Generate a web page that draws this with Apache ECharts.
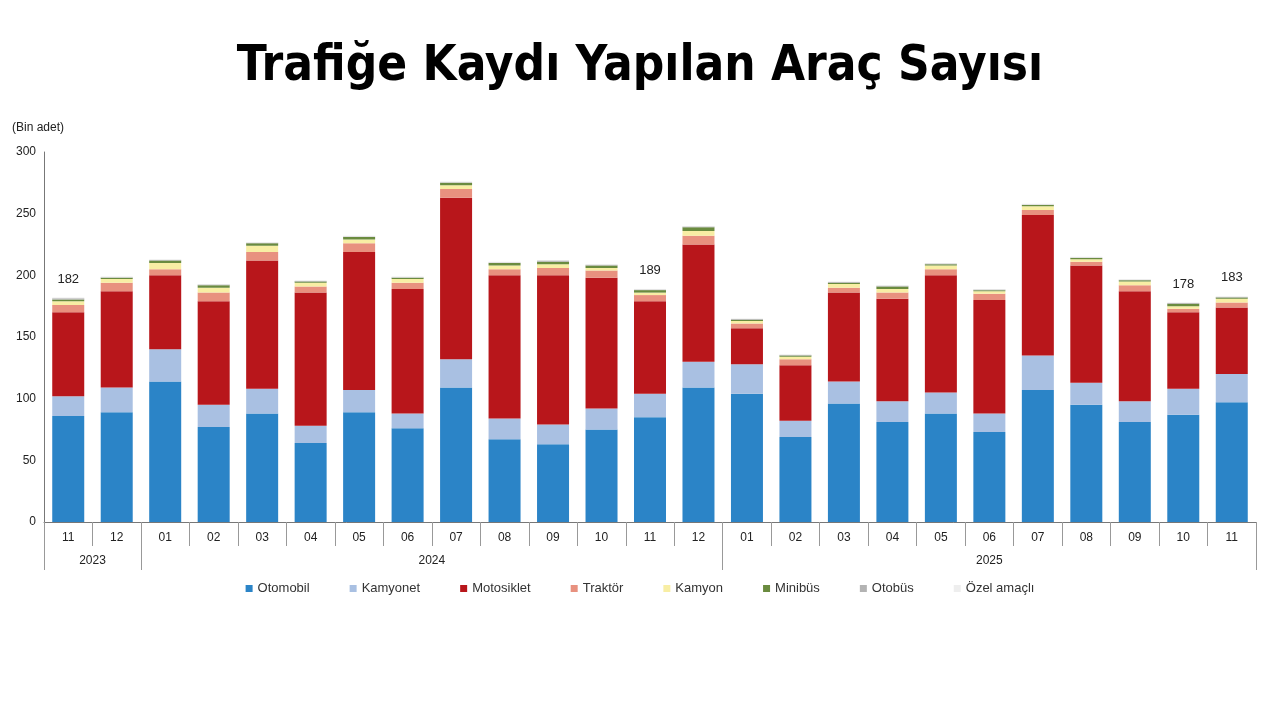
<!DOCTYPE html>
<html>
<head>
<meta charset="utf-8">
<script src="https://cdn.jsdelivr.net/npm/echarts@6/dist/echarts.min.js"></script>
<style>html,body{margin:0;padding:0;background:#fff}#main{width:1280px;height:720px}</style>
</head>
<body>
<div id="main"></div>
<script>
// veriler (bin adet)
var months = ['11','12','01','02','03','04','05','06','07','08','09','10','11','12','01','02','03','04','05','06','07','08','09','10','11'];
var otomobil   = [86,89,114,77,88,64,89,76,109,67,63,75,85,109,104,69,96,81,88,73,107,95,81,87,97];
var kamyonet   = [16,20,26,18,20,14,18,12,23,17,16,17,19,21,24,13,18,17,17,15,28,18,17,21,23];
var motosiklet = [68,78,60,84,104,108,112,101,131,116,121,106,75,95,29,45,72,83,95,92,114,95,89,62,54];
var traktor    = [6,7,5,7,7,5,7,5,7,5,6,6,5,7,4,5,4,5,5,5,4,3,5,3,4];
var kamyon     = [3,3,5,4,5,3,3,3,3,3,3,2,2,4,2,2,3,3,3,2,3,2,3,2,3];
var minibus    = [1.5,1,2,2,2,1,2,1,2,2,2,2,2,3,1,1,1,2,1,1,1,1,1,2,1];
var otobus     = [1,0.5,0.5,0.5,0.5,0.5,0.5,0.5,0.5,0.5,1,0.5,0.5,0.5,0.5,0.5,0.5,0.5,0.5,0.5,0.5,0.5,0.5,0.5,0.5];
var ozel       = [0.5,0.5,0.5,0.5,0.5,0.5,0.5,0.5,0.5,0.5,0.5,0.5,0.5,0.5,0.5,0.5,0.5,0.5,0.5,0.5,0.5,0.5,0.5,0.5,0.5];
var totalLabels = {0:'182', 12:'189', 23:'178', 24:'183'};
var yearLabels = {'0.5':'2023', '7.5':'2024', '19':'2025'};

var myChart = echarts.init(document.getElementById('main'));
var names = ['Otomobil','Kamyonet','Motosiklet','Traktör','Kamyon','Minibüs','Otobüs','Özel amaçlı'];
var colors = ['#2b84c7','#a9c0e2','#b8161b','#e8917f','#f8eea4','#6a8b3f','#b3b3b3','#eeeeee'];
var values = [otomobil,kamyonet,motosiklet,traktor,kamyon,minibus,otobus,ozel];

var series = names.map(function (n, i) {
	var s = {
		name: n, type: 'bar', stack: 'total', barWidth: 32,
		xAxisIndex: 0, data: values[i], itemStyle: { color: colors[i] }
	};
	if (i === names.length - 1) {
		s.label = {
			show: true, position: 'top', distance: 12, color: '#222', fontSize: 13,
			formatter: function (p) { return totalLabels[p.dataIndex] || ''; }
		};
	}
	return s;
});

option = {
	backgroundColor: '#fff',
	animation: false,
	textStyle: { fontFamily: 'Liberation Sans, Arial, sans-serif' },
	title: {
		text: 'Trafiğe Kaydı Yapılan Araç Sayısı',
		left: 'center', top: 38,
		textStyle: { fontFamily: 'DejaVu Sans Condensed, sans-serif', fontWeight: 'bold', fontSize: 49, color: '#000' }
	},
	legend: {
		data: names, bottom: 120, left: 'center', itemWidth: 7, itemHeight: 7, itemGap: 40,
		icon: 'rect', textStyle: { color: '#333', fontSize: 13 }
	},
	grid: { left: 44, right: 24, top: 152, bottom: 198, outerBoundsMode: 'none' },
	xAxis: [{
		type: 'category', data: months,
		axisLine: { lineStyle: { color: '#777' } },
		axisTick: { show: true, interval: 0, length: 24, lineStyle: { color: '#999' } },
		axisLabel: { interval: 0, color: '#222', fontSize: 12, margin: 10 }
	}, {
		type: 'value', position: 'bottom', min: -0.5, max: 24.5, interval: 0.5,
		axisLine: { show: false }, axisTick: { show: false }, splitLine: { show: false },
		axisLabel: {
			color: '#222', fontSize: 12, margin: 33, showMinLabel: true, showMaxLabel: true,
			formatter: function (v) { return yearLabels[String(v)] || ''; }
		}
	}, {
		type: 'category', data: months, position: 'bottom',
		axisLine: { show: false }, axisLabel: { show: false },
		axisTick: {
			show: true, length: 48, lineStyle: { color: '#999' },
			interval: function (i) { return i === 0 || i === 2 || i === 14; }
		}
	}],
	yAxis: {
		type: 'value', min: 0, max: 300, interval: 50,
		name: '(Bin adet)', nameLocation: 'end', nameGap: 18,
		nameTextStyle: { color: '#222', fontSize: 12, align: 'left', padding: [0, 0, 0, -32] },
		axisLine: { show: true, onZero: false, lineStyle: { color: '#777' } },
		axisTick: { show: false }, splitLine: { show: false },
		axisLabel: { color: '#222', fontSize: 12 }
	},
	series: series
};
myChart.setOption(option);
</script>
</body>
</html>
